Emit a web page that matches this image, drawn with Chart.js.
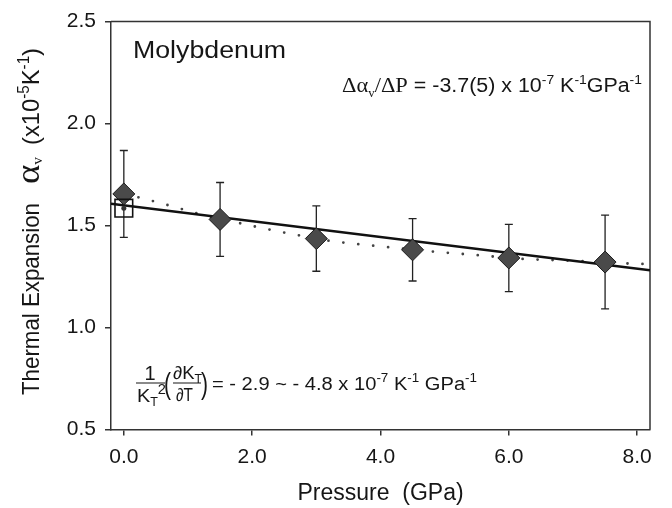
<!DOCTYPE html>
<html>
<head>
<meta charset="utf-8">
<script src="https://cdn.jsdelivr.net/npm/chart.js@4.4.0/dist/chart.umd.min.js"></script>
<style>
  html, body { margin: 0; padding: 0; background: #ffffff; }
  #wrap { width: 672px; height: 508px; }
</style>
</head>
<body>
<div id="wrap"><canvas id="c" width="672" height="508"></canvas></div>
<script>
// ---- data ----
const pressure = [0.0, 1.5, 3.0, 4.5, 6.0, 7.5];
const alphaV = [1.655, 1.530, 1.436, 1.381, 1.341, 1.321];
const alphaErr = [0.213, 0.181, 0.160, 0.153, 0.165, 0.230];

const refPressure = [0.0];
const refAlpha = [1.585];

const fitPressure = [-0.2, 8.2];
const fitAlpha = [1.607, 1.281];

const modelPressure = [0.0, 0.22, 0.69, 1.15, 1.83, 2.29, 2.76, 3.19, 4.12, 4.80, 5.50, 6.19, 7.10, 7.92, 8.2];
const modelAlpha = [1.655, 1.639, 1.600, 1.559, 1.510, 1.479, 1.450, 1.426, 1.394, 1.373, 1.355, 1.337, 1.326, 1.313, 1.311];

const xTicks = [0, 2, 4, 6, 8];
const xTickLabels = ['0.0', '2.0', '4.0', '6.0', '8.0'];
const yTicks = [0.5, 1.0, 1.5, 2.0, 2.5];
const yTickLabels = ['0.5', '1.0', '1.5', '2.0', '2.5'];

const SANS = '"Liberation Sans", Arial, Helvetica, sans-serif';
const SERIF = '"Liberation Serif", "Times New Roman", serif';
const INK = '#161616';

function pts(xs, ys) { return xs.map((x, i) => ({ x: x, y: ys[i] })); }

// draws a run of text pieces, stretched horizontally to fit targetW
function drawRich(ctx, x, y, segs, targetW, sy) {
  let total = 0;
  const widths = segs.map(s => {
    ctx.font = s.f;
    const w = ctx.measureText(s.t).width;
    total += w;
    return w;
  });
  const sx = targetW ? targetW / total : 1;
  ctx.save();
  ctx.translate(x, y);
  ctx.scale(sx, sy || 1);
  let cx = 0;
  segs.forEach((s, i) => {
    ctx.font = s.f;
    ctx.fillText(s.t, cx, s.dy || 0);
    cx += widths[i];
  });
  ctx.restore();
}

const decor = {
  id: 'decor',
  beforeDatasetsDraw(chart) {
    const { ctx, chartArea: a, scales: { x, y } } = chart;
    ctx.save();
    // frame (top and right)
    ctx.strokeStyle = '#333';
    ctx.lineWidth = 1.5;
    ctx.beginPath();
    ctx.moveTo(a.left, a.top);
    ctx.lineTo(a.right, a.top);
    ctx.lineTo(a.right, a.bottom);
    ctx.stroke();
    // error bars
    ctx.strokeStyle = '#222';
    ctx.lineWidth = 1.3;
    pressure.forEach((p, i) => {
      const px = x.getPixelForValue(p);
      const top = y.getPixelForValue(alphaV[i] + alphaErr[i]);
      const bot = y.getPixelForValue(alphaV[i] - alphaErr[i]);
      ctx.beginPath();
      ctx.moveTo(px, top); ctx.lineTo(px, bot);
      ctx.moveTo(px - 4, top); ctx.lineTo(px + 4, top);
      ctx.moveTo(px - 4, bot); ctx.lineTo(px + 4, bot);
      ctx.stroke();
    });
    ctx.restore();
  },
  afterDraw(chart) {
    const ctx = chart.ctx;
    ctx.save();
    ctx.fillStyle = INK;
    ctx.textBaseline = 'alphabetic';
    ctx.textAlign = 'left';

    // y axis title (rotated)
    ctx.save();
    ctx.translate(39, 395);
    ctx.rotate(-Math.PI / 2);
    drawRich(ctx, 0, 0, [{ t: 'Thermal Expansion', f: '22px ' + SANS }], 192, 1.12);
    drawRich(ctx, 211, 0, [
      { t: 'α', f: '31px ' + SERIF },
      { t: 'v', f: '13px ' + SERIF, dy: 3 }
    ], 27, 1.12);
    drawRich(ctx, 250, 0, [
      { t: '(x10', f: '22px ' + SANS },
      { t: '-5', f: '14px ' + SANS, dy: -9 },
      { t: 'K', f: '22px ' + SANS },
      { t: '-1', f: '14px ' + SANS, dy: -9 },
      { t: ')', f: '22px ' + SANS }
    ], 97, 1.12);
    ctx.restore();

    // element label
    drawRich(ctx, 133, 58, [{ t: 'Molybdenum', f: '23px ' + SANS }], 153, 1);

    // slope annotation
    drawRich(ctx, 342, 92, [
      { t: 'Δα', f: '21px ' + SERIF },
      { t: 'v', f: '12px ' + SERIF, dy: 5 },
      { t: '/ΔP', f: '21px ' + SERIF },
      { t: ' = -3.7(5) x 10', f: '20px ' + SANS },
      { t: '-7', f: '13px ' + SANS, dy: -8 },
      { t: ' K', f: '20px ' + SANS },
      { t: '-1', f: '13px ' + SANS, dy: -8 },
      { t: 'GPa', f: '20px ' + SANS },
      { t: '-1', f: '13px ' + SANS, dy: -8 }
    ], 300, 1);

    // bulk-modulus annotation
    const barY = 383;
    ctx.strokeStyle = INK;
    ctx.lineWidth = 1.2;
    ctx.beginPath();
    ctx.moveTo(136, barY); ctx.lineTo(165, barY);
    ctx.moveTo(173, barY); ctx.lineTo(201, barY);
    ctx.stroke();
    ctx.textAlign = 'center';
    ctx.font = '20px ' + SANS;
    ctx.fillText('1', 150, barY - 3);
    ctx.textAlign = 'left';
    drawRich(ctx, 137, barY + 19, [
      { t: 'K', f: '19px ' + SANS },
      { t: 'T', f: '12px ' + SANS, dy: 4 },
      { t: '2', f: '14px ' + SANS, dy: -8 }
    ], 29, 1);
    drawRich(ctx, 164, barY + 11, [{ t: '(', f: '22px ' + SANS }], 7, 1.3);
    drawRich(ctx, 173, barY - 4, [
      { t: '∂K', f: '18px ' + SANS },
      { t: 'T', f: '12px ' + SANS, dy: 4 }
    ], 29, 1);
    drawRich(ctx, 176, barY + 18, [{ t: '∂T', f: '18px ' + SANS }], 17, 1);
    drawRich(ctx, 201, barY + 11, [{ t: ')', f: '22px ' + SANS }], 7, 1.3);
    drawRich(ctx, 212, 390, [
      { t: '= - 2.9 ~ - 4.8 x 10', f: '18px ' + SANS },
      { t: '-7', f: '12px ' + SANS, dy: -8 },
      { t: ' K', f: '18px ' + SANS },
      { t: '-1', f: '12px ' + SANS, dy: -8 },
      { t: ' GPa', f: '18px ' + SANS },
      { t: '-1', f: '12px ' + SANS, dy: -8 }
    ], 265, 1);
    ctx.restore();
  }
};

new Chart(document.getElementById('c'), {
  type: 'scatter',
  data: {
    datasets: [
      {
        label: 'Ambient reference',
        data: pts(refPressure, refAlpha),
        pointStyle: 'rect', pointRadius: 12.5,
        backgroundColor: 'rgba(0,0,0,0)', borderColor: '#111', borderWidth: 1.6,
        showLine: false, order: 0
      },
      {
        label: 'Ambient reference centre',
        data: pts(refPressure, refAlpha),
        pointStyle: 'circle', pointRadius: 2.5,
        backgroundColor: '#333', borderWidth: 0,
        showLine: false, order: 0
      },
      {
        label: 'Measured',
        data: pts(pressure, alphaV),
        pointStyle: 'rectRot', pointRadius: 11,
        backgroundColor: '#4a4a4a', borderColor: '#1a1a1a', borderWidth: 1,
        showLine: false, order: 1
      },
      {
        label: 'Linear fit',
        data: pts(fitPressure, fitAlpha),
        showLine: true, pointRadius: 0,
        borderColor: '#111', borderWidth: 2.4, order: 2
      },
      {
        label: 'Model',
        data: pts(modelPressure, modelAlpha),
        showLine: true, pointRadius: 0,
        borderColor: '#444', borderWidth: 2.8,
        borderDash: [0, 15], borderCapStyle: 'round',
        cubicInterpolationMode: 'monotone', order: 3
      }
    ]
  },
  options: {
    responsive: false,
    animation: false,
    events: [],
    layout: { padding: { left: 0, top: 15, right: 22, bottom: 0 } },
    plugins: { legend: { display: false }, tooltip: { enabled: false } },
    scales: {
      x: {
        type: 'linear', min: -0.2, max: 8.2,
        afterBuildTicks: s => { s.ticks = xTicks.map(v => ({ value: v })); },
        afterFit: s => { s.height = 78.5; },
        ticks: {
          callback: (v, i) => xTickLabels[i],
          font: { family: SANS, size: 21 }, color: INK,
          padding: 9, maxRotation: 0, autoSkip: false
        },
        grid: { drawOnChartArea: false, drawTicks: true, tickLength: 6, color: '#333', lineWidth: 1.5 },
        border: { display: true, color: '#333', width: 1.5 },
        title: {
          display: true, text: 'Pressure  (GPa)',
          font: { family: SANS, size: 23 }, color: INK,
          padding: { top: 0, bottom: 1 }
        }
      },
      y: {
        type: 'linear', min: 0.5, max: 2.5,
        afterBuildTicks: s => { s.ticks = yTicks.map(v => ({ value: v })); },
        afterFit: s => { s.width = 111; },
        ticks: {
          callback: (v, i) => yTickLabels[i],
          font: { family: SANS, size: 21 }, color: INK,
          padding: 9, autoSkip: false
        },
        grid: { drawOnChartArea: false, drawTicks: true, tickLength: 6, color: '#333', lineWidth: 1.5 },
        border: { display: true, color: '#333', width: 1.5 }
      }
    }
  },
  plugins: [decor]
});
</script>
</body>
</html>
